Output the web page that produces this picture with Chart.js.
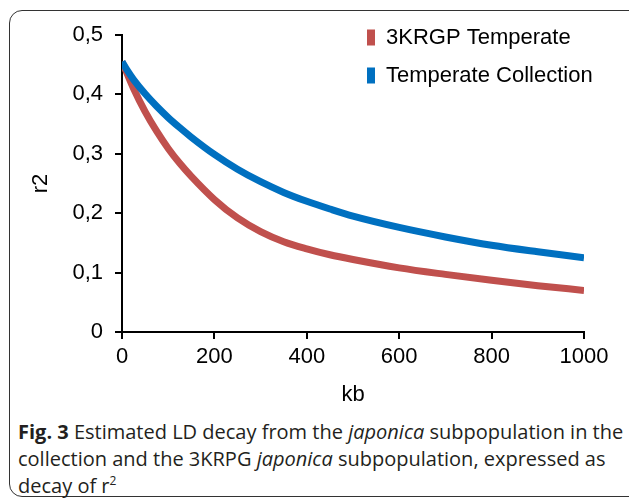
<!DOCTYPE html>
<html>
<head>
<meta charset="utf-8">
<script src="https://cdn.jsdelivr.net/npm/chart.js@4/dist/chart.umd.min.js"></script>
<style>
  html, body { margin: 0; padding: 0; background: #fff; }
  body { width: 629px; height: 501px; position: relative; overflow: hidden; }
  #frame { position: absolute; left: 9px; top: 10px; width: 700px; height: 487px;
           border: 1.5px solid #333; border-radius: 13px; box-sizing: border-box; }
  #c { position: absolute; left: 0; top: 0; }
  #cap { position: absolute; left: 18px; top: 418px; font-family: "Open Sans", sans-serif;
         font-size: 20px; line-height: 27px; color: #231f20; white-space: nowrap; }
  #cap div { height: 27px; }
  #cap sup { font-size: 12px; line-height: 0; vertical-align: 8px; }
  #probe { position: absolute; left: -1000px; font-family: "Liberation Sans"; }
</style>
</head>
<body>
<div id="frame"></div>
<span id="probe">0,5 Temperate</span>
<canvas id="c" width="629" height="412"></canvas>
<div id="cap">
  <div><b>Fig. 3</b> Estimated LD decay from the <i>japonica</i> subpopulation in the</div>
  <div>collection and the 3KRPG <i>japonica</i> subpopulation, expressed as</div>
  <div>decay of r<sup>2</sup></div>
</div>
<script>
// ---- data ----
const kb = [0, 10, 25, 50, 75, 100, 125, 150, 200, 250, 300, 350, 400, 450, 500, 600, 700, 800, 900, 1000];
const r2_3KRGP = [0.455, 0.437, 0.410, 0.371, 0.338, 0.309, 0.284, 0.262, 0.223, 0.192, 0.169, 0.152, 0.140, 0.130, 0.122, 0.108, 0.097, 0.087, 0.078, 0.070];
const r2_Collection = [0.455, 0.442, 0.425, 0.401, 0.380, 0.361, 0.344, 0.328, 0.299, 0.274, 0.253, 0.235, 0.220, 0.207, 0.195, 0.176, 0.160, 0.146, 0.135, 0.125];
const seriesNames = ["3KRGP Temperate", "Temperate Collection"];
const yTicks = [0, 0.1, 0.2, 0.3, 0.4, 0.5];
const xTicks = [0, 200, 400, 600, 800, 1000];
const xTitle = "kb";
const yTitle = "r2";

const RED = "#C0504D", BLUE = "#0070C0";
const toXY = (vals) => kb.map((k, i) => ({ x: k, y: vals[i] }));

const legendPlacer = {
  id: "legendPlacer",
  afterLayout(chart) {
    const lg = chart.legend;
    if (!lg) return;
    const w = lg.width;
    lg.left = 351; lg.right = 351 + w;
    lg.top = 10.5;
  }
};

const tickFont = { family: '"Liberation Sans", Arial, sans-serif', size: 22 };

function build() {
  new Chart(document.getElementById("c"), {
    type: "line",
    data: {
      datasets: [
        { label: seriesNames[0], data: toXY(r2_3KRGP), borderColor: RED, backgroundColor: RED,
          borderWidth: 7, pointRadius: 0, cubicInterpolationMode: "monotone", borderJoinStyle: "round", order: 1 },
        { label: seriesNames[1], data: toXY(r2_Collection), borderColor: BLUE, backgroundColor: BLUE,
          borderWidth: 7, pointRadius: 0, cubicInterpolationMode: "monotone", borderJoinStyle: "round", order: 0 }
      ]
    },
    options: {
      responsive: false,
      animation: false,
      devicePixelRatio: 1,
      layout: { padding: { top: 35, right: 45, left: 0, bottom: 0 } },
      plugins: {
        tooltip: { enabled: false },
        legend: {
          position: "chartArea",
          align: "start",
          labels: {
            boxWidth: 8, boxHeight: 16, padding: 16, color: "#000",
            font: tickFont,
            sort: (a, b) => a.datasetIndex - b.datasetIndex,
            generateLabels: (chart) => Chart.defaults.plugins.legend.labels.generateLabels(chart)
              .map(l => Object.assign(l, { lineWidth: 0 }))
          }
        }
      },
      scales: {
        x: {
          type: "linear", min: 0, max: 1000,
          afterBuildTicks: (s) => { s.ticks = xTicks.map(v => ({ value: v })); },
          afterFit: (s) => { s.height = 80; },
          ticks: { color: "#000", font: tickFont, padding: 5, maxRotation: 0, callback: (v) => String(v) },
          grid: { display: true, drawOnChartArea: false, drawTicks: true, tickLength: 7, color: "#000", lineWidth: 2 },
          border: { display: true, color: "#000", width: 2 },
          title: { display: true, text: xTitle, color: "#000", font: tickFont, padding: { top: 0, bottom: 4 } }
        },
        y: {
          type: "linear", min: 0, max: 0.5,
          afterBuildTicks: (s) => { s.ticks = yTicks.map(v => ({ value: v })); },
          afterFit: (s) => { s.width = 122; },
          ticks: { color: "#000", font: tickFont, padding: 12,
                   callback: (v) => v === 0 ? "0" : v.toFixed(1).replace(".", ",") },
          grid: { display: true, drawOnChartArea: false, drawTicks: true, tickLength: 7, color: "#000", lineWidth: 2 },
          border: { display: true, color: "#000", width: 2 },
          title: { display: true, text: yTitle, color: "#000", font: tickFont, padding: { top: 28, bottom: 0 } }
        }
      }
    },
    plugins: [legendPlacer]
  });
}

Promise.all([
  document.fonts.load('22px "Liberation Sans"'),
  document.fonts.load('20px "Open Sans"')
]).catch(() => {}).then(build);
</script>
</body>
</html>
